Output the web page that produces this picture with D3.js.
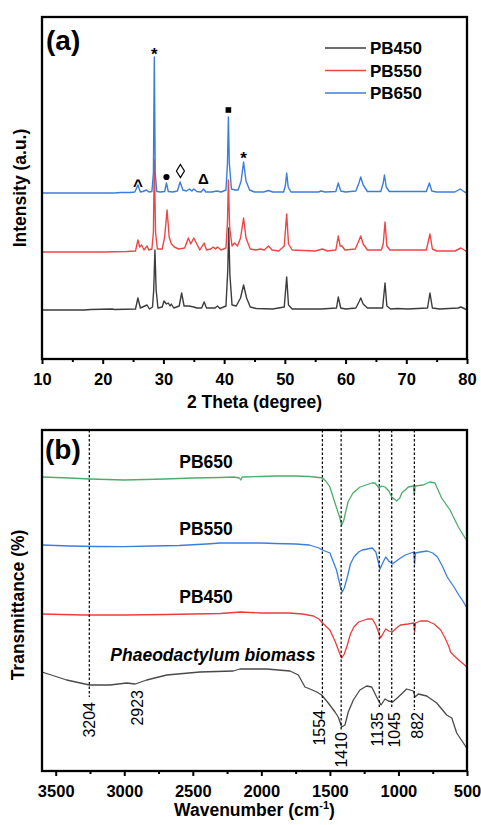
<!DOCTYPE html>
<html>
<head>
<meta charset="utf-8">
<script src="https://cdn.jsdelivr.net/npm/d3@7"></script>
<style>
  body { margin: 0; background: #fff; }
  svg { display: block; font-family: "Liberation Sans", Arial, sans-serif; }
</style>
</head>
<body>
<div id="chart"></div>
<script>
// ---------- (a) XRD data, [2theta, intensity a.u.] ----------
var xrdNames = ["PB450", "PB550", "PB650"];
var xrdOffsets = [49, 107, 166];

var xrd450 = [[10,0],[17,0],[18,0.5],[21.5,1],[22,0.5],[25.4,1],[25.8,12],[26.2,2],[27.3,5],[27.7,1],
  [28.2,3],[28.4,20],[28.6,60],[28.8,20],[29.1,2],[29.8,3],[30.1,9],[30.5,6],[30.8,7],[31.1,4],[31.3,6],
  [31.7,2],[32.6,4],[33,17],[33.4,4],[34.2,4],[35,3],[35.5,2],[36.3,2],[36.7,8],[37.1,2],[38.5,2],[38.9,4],
  [39.3,1.5],[40.3,4],[40.6,40],[40.75,82],[40.95,35],[41.3,5],[42,4],[42.7,12],[43.2,25],[43.7,12],[44.3,3],
  [45.3,1.5],[48,1],[49.9,3],[50.3,33],[50.6,5],[51.2,1],[56,1],[58.5,2],[58.8,13],[59.2,2],[60,1],[61.7,2],
  [62.2,8],[62.5,12],[62.9,6],[63.6,2],[66.1,2],[66.5,27],[66.8,4],[67.4,1],[68.5,1.5],[70.2,1],[73.5,2],
  [73.9,17],[74.3,2],[75.5,1],[78.5,2],[79,3],[79.7,1],[80,0]];

var xrd550 = [[10,0],[20,0],[24,0.5],[25.4,1],[25.8,12],[26.1,5],[26.4,7],[26.8,2],[27.3,6],[27.6,2],
  [28.1,3],[28.35,20],[28.5,92],[28.7,20],[29,3],[29.8,3],[30.2,15],[30.6,42],[30.95,15],[31.3,8],[31.8,5],
  [32.5,3],[33.5,4],[34.1,14],[34.5,8],[35,14],[35.5,8],[36,2],[36.7,9],[37.1,2],[37.8,3],[38.2,5],[38.6,3],
  [38.9,5],[39.5,2],[40.3,4],[40.55,30],[40.7,72],[40.9,25],[41.3,6],[41.7,9],[42.2,6],[42.7,14],[43.2,34],
  [43.6,14],[44.3,3],[45.2,2],[46,3],[46.6,2],[47.3,6],[47.9,2],[49,1],[49.9,6],[50.3,38],[50.6,8],[51.2,2],
  [55,1],[56.2,3],[57,1],[58.4,2],[58.8,16],[59.1,6],[59.4,6],[59.9,2],[61.6,3],[62.1,10],[62.5,16],[62.9,8],
  [63.6,2],[65.9,2],[66.2,8],[66.5,30],[66.8,6],[67.3,2],[73.3,2],[73.9,18],[74.3,3],[75,1],[78,1],[79,4],
  [79.8,1],[80,0]];

var xrd650 = [[10,0],[22,0],[23,0.5],[24.5,0.5],[25.3,1],[25.8,8],[26.2,1],[26.6,1.5],[27.2,3],[27.6,1],
  [28.1,1.5],[28.35,20],[28.5,136],[28.65,20],[28.9,1.5],[29.5,1],[30.2,1.5],[30.5,10],[30.8,1.5],[31.5,1],
  [32.3,2],[32.75,11],[33.2,3],[33.8,2],[34.3,4],[34.7,2],[35,4],[35.5,1.5],[36.2,1],[36.6,4],[37,1],[38,1],
  [38.8,2],[39.5,1],[40.3,3],[40.55,30],[40.7,76],[40.85,30],[41.2,4],[41.8,3],[42.3,3],[42.8,12],[43.2,31],
  [43.6,12],[44.2,3],[45,1],[46.5,1],[47.3,2.5],[48,1],[49.8,1],[50.1,8],[50.3,20],[50.55,6],[51,1],[55.5,1],
  [56,2],[56.6,1],[58.4,1.5],[58.8,10],[59.2,2],[60,1],[61.7,2],[62.2,10],[62.5,16],[62.9,8],[63.6,1.5],
  [65.8,1.5],[66.2,10],[66.4,18],[66.7,6],[67.2,1.5],[73.3,1.5],[73.8,10],[74.2,2],[75,1],[78,1],[78.9,4],
  [79.6,1],[80,0]];

var xrdTicks = [10, 20, 30, 40, 50, 60, 70, 80];
var xrdMinor = [15, 25, 35, 45, 55, 65, 75];

// phase markers over the PB650 pattern: [2theta, height a.u., symbol]
var phaseMarks = [[28.5, 309, "*"], [40.7, 249, "square"], [43.2, 205, "*"], [25.8, 179, "^"],
  [30.5, 182, "circle"], [32.8, 188, "diamond"], [36.6, 180, "Δ"]];

// ---------- (b) FTIR data, [wavenumber, transmittance a.u.] ----------
var ftirNames = ["Phaeodactylum biomass", "PB450", "PB550", "PB650"];

var ftirBio = [[3600,99],[3420,91],[3254,86],[3104,86],[2982,88],[2920,87],[2836,91],[2690,96],[2448,99],
  [2205,100],[2156,102],[1961,102],[1791,100],[1730,96],[1682,84],[1645,82],[1596,79],[1560,76],[1512,68],
  [1463,59],[1439,54],[1414,44],[1390,46],[1366,59],[1329,71],[1281,81],[1232,85],[1195,84],[1159,74],
  [1127,66],[1098,72],[1074,70],[1042,69],[1001,74],[940,82],[891,80],[879,74],[855,77],[794,75],[721,68],
  [648,56],[611,53],[575,38],[507,24],[500,23]];

var ftir450 = [[3600,157],[3300,156],[3000,156],[2700,156.5],[2500,157],[2300,157.5],[2150,159],[2000,158],
  [1800,158],[1700,157],[1620,155],[1580,152],[1554,148],[1500,141],[1460,129],[1430,118],[1414,113],
  [1395,117],[1373,126],[1350,137],[1325,144],[1290,149],[1227,152],[1191,152],[1165,146],[1130,133],
  [1110,138],[1093,142],[1070,140],[1045,139],[1015,143],[985,146],[930,147],[888,148],[882,139],[876,148],
  [840,150],[789,150],[740,147],[692,141],[660,133],[631,124],[620,119],[600,116],[560,111],[500,104]];

var ftir550 = [[3600,226],[3400,225],[3200,224.5],[3000,224.3],[2800,225],[2600,225.5],[2400,227],[2300,228],
  [2150,228],[2000,228],[1900,227.5],[1750,227],[1650,226],[1580,223],[1554,221],[1500,218],[1452,201],
  [1425,185],[1410,179],[1395,183],[1373,194],[1350,207],[1325,214],[1290,219],[1264,221],[1191,223],
  [1165,219],[1134,202],[1115,208],[1093,214],[1070,210],[1045,207],[1015,210],[985,213],[950,216],[910,218],
  [888,219],[882,207],[876,218],[840,219],[789,220],[750,218],[716,214],[680,205],[644,194],[610,187],
  [595,184],[560,176],[530,170],[500,163]];

var ftir650 = [[3600,294],[3400,293],[3250,292],[3000,291],[2700,292],[2500,293],[2300,293.5],[2200,294],
  [2160,293],[2150,291],[2140,294],[2000,294.5],[1900,295],[1750,295],[1650,294.5],[1580,293.5],[1554,293],
  [1530,290],[1500,284],[1463,268],[1427,253],[1414,246],[1400,250],[1390,256],[1368,269],[1332,278],
  [1280,284],[1195,288],[1171,288],[1142,283],[1122,285],[1098,284],[1070,280],[1049,274],[1013,270],
  [990,273],[976,278],[928,284],[891,285],[884,276],[878,285],[819,286],[771,289],[734,288],[685,273],
  [624,261],[563,244],[514,233],[500,231]];

var ftirTicks = [3500, 3000, 2500, 2000, 1500, 1000, 500];
var ftirMinor = [3250, 2750, 2250, 1750, 1250, 750];

// band labels and where their guide lines sit on the figure
var bandLabels = ["3204", "2923", "1554", "1410", "1135", "1045", "882"];
var bandLineAt = [3255, null, 1555, 1418, 1140, 1049, 884];
var bandLabelAt = [3255, 2905, 1578, 1418, 1156, 1028, 862];

// ---------- chart ----------
var W = 481, H = 825;
var fontStack = '"Liberation Sans", Arial, sans-serif';

var svg = d3.select("#chart").append("svg")
  .attr("width", W)
  .attr("height", H);

function frameAxis(g, box, x, ticks, minor) {
  g.append("g")
    .attr("transform", `translate(0, ${box.bottom})`)
    .call(d3.axisBottom(x).tickValues(minor).tickSize(3).tickFormat(""))
    .call(s => s.select(".domain").remove())
    .selectAll("line").attr("stroke", "#000").attr("stroke-width", 2);

  var ax = g.append("g")
    .attr("transform", `translate(0, ${box.bottom})`)
    .call(d3.axisBottom(x).tickValues(ticks).tickSize(5).tickPadding(9).tickFormat(d3.format("d")));
  ax.select(".domain").remove();
  ax.selectAll("line").attr("stroke", "#000").attr("stroke-width", 2);
  ax.selectAll("text")
    .attr("font-family", fontStack)
    .attr("font-size", 16.5)
    .attr("font-weight", "bold")
    .attr("fill", "#000");

  g.append("rect")
    .attr("x", box.left)
    .attr("y", box.top)
    .attr("width", box.right - box.left)
    .attr("height", box.bottom - box.top)
    .attr("fill", "none")
    .attr("stroke", "#000")
    .attr("stroke-width", 2.3);
}

// ----- panel (a) -----
var boxA = {left: 42, right: 467, top: 17, bottom: 359};
var xA = d3.scaleLinear().domain([10, 80]).range([boxA.left, boxA.right]);
var yA = d3.scaleLinear().domain([0, 342]).range([boxA.bottom, boxA.top]);
var xrdColors = ["#3c3c3c", "#ee4646", "#3b7ddd"];
var xrdSeries = [xrd450, xrd550, xrd650];

var gA = svg.append("g");

xrdSeries.forEach(function(s, i) {
  var line = d3.line()
    .x(d => xA(d[0]))
    .y(d => yA(d[1] + xrdOffsets[i]));
  gA.append("path")
    .datum(s)
    .attr("d", line)
    .attr("fill", "none")
    .attr("stroke", xrdColors[i])
    .attr("stroke-width", 1.4)
    .attr("stroke-linejoin", "round");
});

frameAxis(gA, boxA, xA, xrdTicks, xrdMinor);

// phase markers
phaseMarks.forEach(function(m) {
  var px = xA(m[0]), py = yA(m[1]);
  if (m[2] == "square") {
    gA.append("rect").attr("x", px - 2.8).attr("y", py - 2.8)
      .attr("width", 5.6).attr("height", 5.6).attr("fill", "#000");
  } else if (m[2] == "circle") {
    gA.append("circle").attr("cx", px).attr("cy", py).attr("r", 3.1).attr("fill", "#000");
  } else if (m[2] == "diamond") {
    gA.append("path")
      .attr("d", `M${px},${py - 6.5}L${px + 4},${py}L${px},${py + 6.5}L${px - 4},${py}Z`)
      .attr("fill", "none").attr("stroke", "#000").attr("stroke-width", 1.2);
  } else {
    var fs = m[2] == "*" ? 17 : (m[2] == "^" ? 17 : 15);
    var dy = m[2] == "*" ? 0.58 : (m[2] == "^" ? 0.62 : 0.36);
    gA.append("text")
      .attr("x", px)
      .attr("y", py)
      .attr("dy", dy + "em")
      .attr("text-anchor", "middle")
      .attr("font-size", fs)
      .attr("font-weight", "bold")
      .text(m[2]);
  }
});

// legend
xrdNames.forEach(function(n, i) {
  var ly = 48 + i * 22.5;
  gA.append("line")
    .attr("x1", 325).attr("x2", 366)
    .attr("y1", ly).attr("y2", ly)
    .attr("stroke", xrdColors[i])
    .attr("stroke-width", 1.4);
  gA.append("text")
    .attr("x", 370)
    .attr("y", ly + 6)
    .attr("font-size", 17)
    .attr("font-weight", "bold")
    .text(n);
});

gA.append("text")
  .attr("x", 46).attr("y", 50)
  .attr("font-size", 28).attr("font-weight", "bold")
  .text("(a)");

gA.append("text")
  .attr("x", (boxA.left + boxA.right) / 2).attr("y", 408)
  .attr("text-anchor", "middle")
  .attr("font-size", 17.5).attr("font-weight", "bold")
  .text("2 Theta (degree)");

gA.append("text")
  .attr("transform", "rotate(-90)")
  .attr("x", -188).attr("y", 26)
  .attr("text-anchor", "middle")
  .attr("font-size", 17.5).attr("font-weight", "bold")
  .text("Intensity (a.u.)");

// ----- panel (b) -----
var boxB = {left: 42, right: 467, top: 430, bottom: 771};
var xB = d3.scaleLinear().domain([3600, 500]).range([boxB.left, boxB.right]);
var yB = d3.scaleLinear().domain([0, 341]).range([boxB.bottom, boxB.top]);
var ftirColors = ["#4a4a4a", "#ee3c3c", "#3a7fdc", "#4cae6c"];
var ftirSeries = [ftirBio, ftir450, ftir550, ftir650];
// name label positions [wavenumber, transmittance a.u.]
var ftirNamePos = [[2353, 110], [2404, 168], [2404, 236], [2404, 303]];

var gB = svg.append("g");

var lineB = d3.line()
  .x(d => xB(d[0]))
  .y(d => yB(d[1]));

ftirSeries.forEach(function(s, i) {
  gB.append("path")
    .datum(s)
    .attr("d", lineB)
    .attr("fill", "none")
    .attr("stroke", ftirColors[i])
    .attr("stroke-width", 1.3)
    .attr("stroke-linejoin", "round");

  gB.append("text")
    .attr("x", xB(ftirNamePos[i][0]))
    .attr("y", yB(ftirNamePos[i][1]))
    .attr("text-anchor", "middle")
    .attr("font-size", 17.5)
    .attr("font-weight", "bold")
    .attr("font-style", i == 0 ? "italic" : "normal")
    .text(ftirNames[i]);
});

// guide lines, ending a little above each label
var bandLineEnd = [74, null, 63, 41, 63, 64, 61];
var bandTextTop = [69, 81, 61, 39, 59, 59, 59];

bandLabels.forEach(function(b, i) {
  if (bandLineAt[i] != null) {
    gB.append("line")
      .attr("x1", xB(bandLineAt[i])).attr("x2", xB(bandLineAt[i]))
      .attr("y1", boxB.top).attr("y2", yB(bandLineEnd[i]))
      .attr("stroke", "#000")
      .attr("stroke-width", 1.2)
      .attr("stroke-dasharray", "2.5,2");
  }
  var lx = xB(bandLabelAt[i]), ly = yB(bandTextTop[i]);
  gB.append("text")
    .attr("transform", `translate(${lx}, ${ly}) rotate(-90)`)
    .attr("dy", "0.36em")
    .attr("text-anchor", "end")
    .attr("font-size", 16)
    .text(b);
});

frameAxis(gB, boxB, xB, ftirTicks, ftirMinor);

gB.append("text")
  .attr("x", 45).attr("y", 459)
  .attr("font-size", 28).attr("font-weight", "bold")
  .text("(b)");

var xt = gB.append("text")
  .attr("x", (boxB.left + boxB.right) / 2).attr("y", 816)
  .attr("text-anchor", "middle")
  .attr("font-size", 17.5).attr("font-weight", "bold");
xt.append("tspan").text("Wavenumber (cm");
xt.append("tspan").attr("font-size", 11).attr("dy", -7).text("-1");
xt.append("tspan").attr("dy", 7).text(")");

gB.append("text")
  .attr("transform", "rotate(-90)")
  .attr("x", -605).attr("y", 24)
  .attr("text-anchor", "middle")
  .attr("font-size", 17.5).attr("font-weight", "bold")
  .text("Transmittance (%)");
</script>
</body>
</html>
